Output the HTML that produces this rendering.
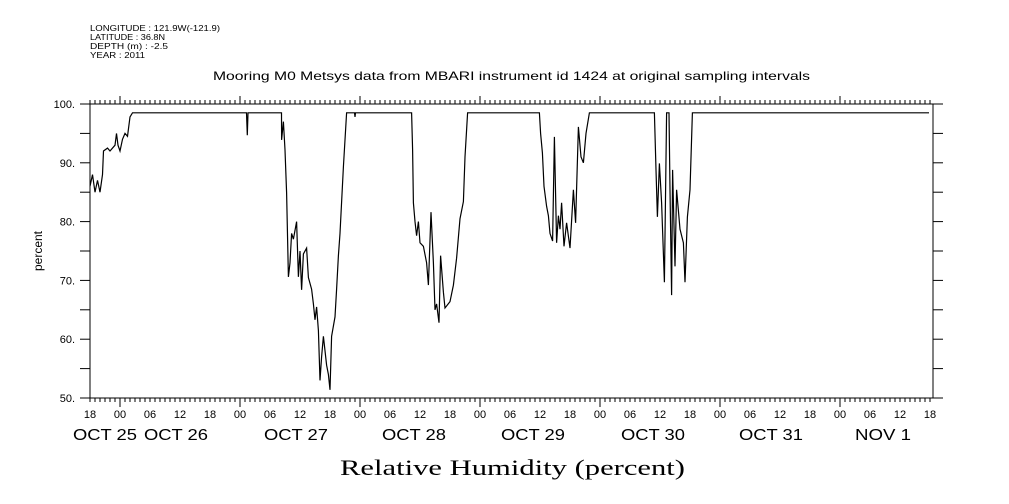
<!DOCTYPE html>
<html><head><meta charset="utf-8"><style>
body{margin:0;background:#fff;}
svg{display:block;font-family:"Liberation Sans",sans-serif;}
</style></head><body>
<svg id="c" width="1009" height="504" viewBox="0 0 1009 504">
<g font-size="8" fill="#000">
<text x="90" y="31" textLength="130" lengthAdjust="spacingAndGlyphs">LONGITUDE : 121.9W(-121.9)</text>
<text x="90" y="40" textLength="75" lengthAdjust="spacingAndGlyphs">LATITUDE : 36.8N</text>
<text x="90" y="49" textLength="78" lengthAdjust="spacingAndGlyphs">DEPTH (m) : -2.5</text>
<text x="90" y="58" textLength="55" lengthAdjust="spacingAndGlyphs">YEAR : 2011</text>
</g>
<text x="213" y="80" font-size="12" textLength="597" lengthAdjust="spacingAndGlyphs">Mooring M0 Metsys data from MBARI instrument id 1424 at original sampling intervals</text>
<text x="42" y="251" font-size="12" text-anchor="middle" transform="rotate(-90 42 251)">percent</text>
<text x="340" y="475" font-size="22" font-family="Liberation Serif,serif" textLength="345" lengthAdjust="spacingAndGlyphs">Relative Humidity (percent)</text>
<rect x="90" y="104" width="843" height="294" fill="none" stroke="#000" stroke-width="1"/>
<g id="axes"></g>
<path id="line" fill="none" stroke="#000" stroke-width="1.2"/>
</svg>
<script>
const hours=[0,0.5,1,1.5,2,2.5,2.7,3.5,4,5,5.3,5.6,6,6.5,7,7.5,8,8.5,31.3,31.47,31.6,38.3,38.33,38.67,39,39.33,39.67,40,40.33,40.67,41.33,41.67,42,42.33,42.67,43.33,43.67,44.33,44.67,45,45.33,45.67,46,46.33,46.67,47.33,47.67,48,48.33,49,49.33,49.67,50,50.67,51.33,52.9,53,53.1,64.33,64.53,64.67,65,65.33,65.67,66,66.67,67.33,67.67,68.2,68.67,69,69.33,69.8,70.13,70.67,71,72,72.67,73.33,74,74.67,75,75.53,89.87,90.13,90.47,90.8,91.33,91.67,92,92.53,92.87,93.33,93.67,94,94.33,94.8,95.33,96,96.67,97.13,97.67,98.2,98.67,99.2,99.87,112.87,113.2,113.47,113.87,114.33,114.87,115.33,115.8,116,116.33,116.53,117,117.33,118,118.67,119,119.47,120,120.47,167.8];
const values=[86,88,85,87,85,88,92,92.5,92,93,95,93,92,94,95,94.5,97.8,98.5,98.5,94.7,98.5,98.5,93.9,97,92.2,84.9,70.6,73,78,77,80,70.6,75,68.4,74.5,75.5,70.5,68.5,66,63.3,65.5,61.5,53,57,60.5,55.6,54,51.4,60.5,63.8,68.5,74.2,78,89.3,98.5,98.5,97.8,98.5,98.5,92.2,83.2,80,77.6,80,76.4,75.8,73,69.2,81.6,73,65,66,62.8,74.2,68,65.3,66.4,69.2,73.8,80.5,83.4,91,98.5,98.5,95,91.7,86,82.6,81,78,76.7,94.4,76.4,81,78.7,83.2,75.8,79.8,75.5,85.4,79.8,96.1,91,90,95,98.5,98.5,88.8,80.8,89.9,83.2,69.7,98.5,98.5,85.4,67.5,88.8,72.4,85.4,78.7,76.4,69.7,80.8,85.4,98.5,98.5];
const yTicks=[50,60,70,80,90,100];
const yTickLabels=["50.","60.","70.","80.","90.","100."];
const hourLabels=["18","00","06","12"];
const dayLabels=["OCT 25","OCT 26","OCT 27","OCT 28","OCT 29","OCT 30","OCT 31","NOV  1"];
const dayLabelX=[105,176,296,414,533,653,771,883];
const X0=90,PXH=5,Y0=398,PXV=294/50;
function xs(h){return X0+h*PXH;}
function ys(v){return Y0-(v-50)*PXV;}
const NS="http://www.w3.org/2000/svg";
const ax=document.getElementById('axes');
function ln(x1,y1,x2,y2,name){const l=document.createElementNS(NS,'line');l.setAttribute('x1',x1);l.setAttribute('y1',y1);l.setAttribute('x2',x2);l.setAttribute('y2',y2);l.setAttribute('stroke','#000');


ax.appendChild(l);}
function tx(x,y,s,anchor,size,name){const t=document.createElementNS(NS,'text');t.setAttribute('x',x);t.setAttribute('y',y);t.setAttribute('text-anchor',anchor);t.setAttribute('font-size',size);t.textContent=s;


ax.appendChild(t);return t;}
for(let v=50;v<=100;v+=5){const y=ys(v);ln(80,y,90,y,'y-tick-left');ln(933,y,943,y,'y-tick-right');}
yTicks.forEach((v,i)=>tx(75,ys(v)+4,yTickLabels[i],'end',11,'y-tick-label'));
for(let h=0;h<=168;h++){const x=xs(h);if(x>933)break;const major=((h-6)%24===0);
ln(x,104,x,major?96:100,major?'x-major-tick-top':'x-minor-tick-top');
ln(x,398,x,major?407:402,major?'x-major-tick-bottom':'x-minor-tick-bottom');}
for(let k=0;k<=28;k++){tx(xs(k*6),418,hourLabels[k%4],'middle',11,'x-hour-label');}
dayLabels.forEach((d,i)=>{const t=tx(dayLabelX[i],440,d,'middle',16,'x-day-label');t.setAttribute('textLength',i===7?56:64);t.setAttribute('lengthAdjust','spacingAndGlyphs');});
let d='';hours.forEach((h,i)=>{d+=(i?'L':'M')+xs(h).toFixed(1)+' '+ys(values[i]).toFixed(1)+' ';});
document.getElementById('line').setAttribute('d',d);
</script>
</body></html>
